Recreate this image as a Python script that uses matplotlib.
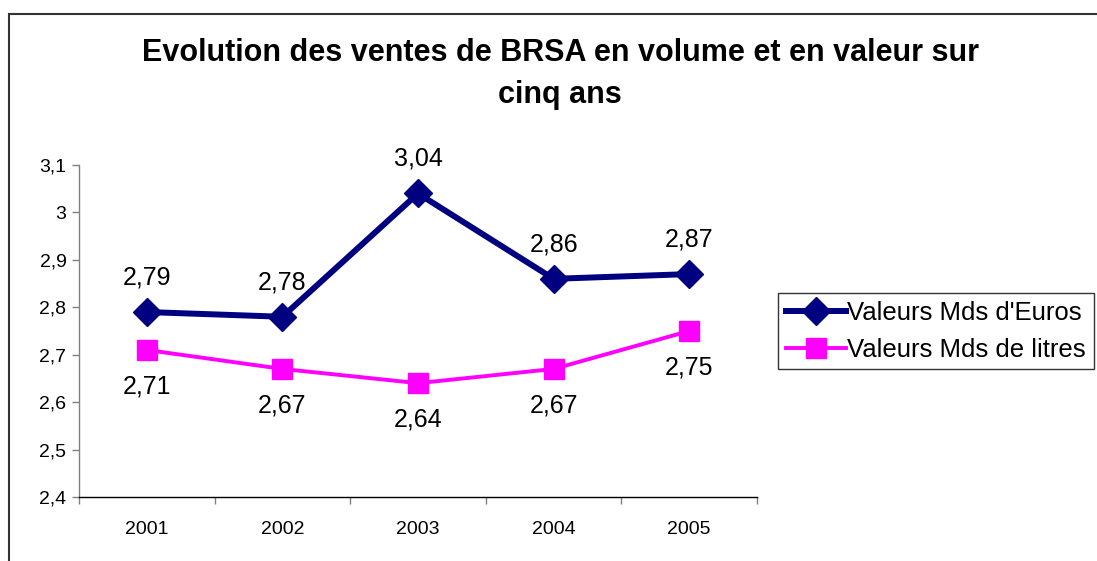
import matplotlib
matplotlib.use("Agg")
import matplotlib.pyplot as plt
from matplotlib.patches import Rectangle
from matplotlib.ticker import FixedLocator

plt.rcParams['font.family'] = ['Liberation Sans', 'DejaVu Sans']

years = ['2001', '2002', '2003', '2004', '2005']
euros = [2.79, 2.78, 3.04, 2.86, 2.87]
litres = [2.71, 2.67, 2.64, 2.67, 2.75]
yticks = [2.4, 2.5, 2.6, 2.7, 2.8, 2.9, 3.0, 3.1]

def fr(v):
    s = ('%.2f' % v).rstrip('0').rstrip('.')
    return s.replace('.', ',')

fig = plt.figure(figsize=(10.97, 5.61), dpi=100)
W, H = 1097, 561

# outer frame (clipped by figure edges)
fig.patches.append(Rectangle((9 / W, -0.1), 1.2, (H - 14) / H + 0.1, transform=fig.transFigure,
                             fill=False, edgecolor='#333333', linewidth=1.5))

ax = fig.add_axes([79 / W, 1 - 497 / H, (757 - 79) / W, (497 - 165) / H])
x = list(range(len(years)))
ax.plot(x, euros, color='#000080', linewidth=4.3, marker='D', markersize=14,
        label="Valeurs Mds d'Euros", clip_on=False, zorder=3)
ax.plot(x, litres, color='#FF00FF', linewidth=2.8, marker='s', markersize=14,
        label='Valeurs Mds de litres', clip_on=False, zorder=3)

for xi, v in zip(x, euros):
    ax.annotate(fr(v), (xi, v), xytext=(0, 25), textcoords='offset points',
                ha='center', va='center', fontsize=18)
for xi, v in zip(x, litres):
    ax.annotate(fr(v), (xi, v), xytext=(0, -26), textcoords='offset points',
                ha='center', va='center', fontsize=18)

ax.set_xlim(-0.5, len(years) - 0.5)
ax.set_ylim(2.4, 3.1)
ax.set_yticks(yticks)
ax.set_yticklabels([fr(t) for t in yticks], fontsize=14)
ax.set_xticks(x)
ax.set_xticklabels(years, fontsize=14)
ax.xaxis.set_minor_locator(FixedLocator([i - 0.5 for i in range(len(years) + 1)]))
ax.tick_params(axis='x', which='major', length=0, pad=17)
ax.tick_params(axis='x', which='minor', length=5, color='#808080', width=1)
ax.tick_params(axis='y', length=5, color='#808080', width=1, pad=4)
ax.spines['top'].set_visible(False)
ax.spines['right'].set_visible(False)
ax.spines['left'].set_color('#808080')
ax.spines['bottom'].set_color('#000000')
ax.spines['left'].set_linewidth(1)
ax.spines['bottom'].set_linewidth(1)

fig.text(560 / W, 1 - 74 / H, 'Evolution des ventes de BRSA en volume et en valeur sur\ncinq ans',
         ha='center', va='center', fontsize=22, fontweight='bold', linespacing=1.5)

leg = fig.legend(loc='upper left', bbox_to_anchor=(778 / W, 1 - 293 / H), fontsize=18.5,
                 frameon=True, fancybox=False, edgecolor='black', handlelength=2.35,
                 handletextpad=0.05, borderpad=0.3, labelspacing=0.5, borderaxespad=0)
leg.get_frame().set_linewidth(1)

fig.savefig('out.png', dpi=100)
